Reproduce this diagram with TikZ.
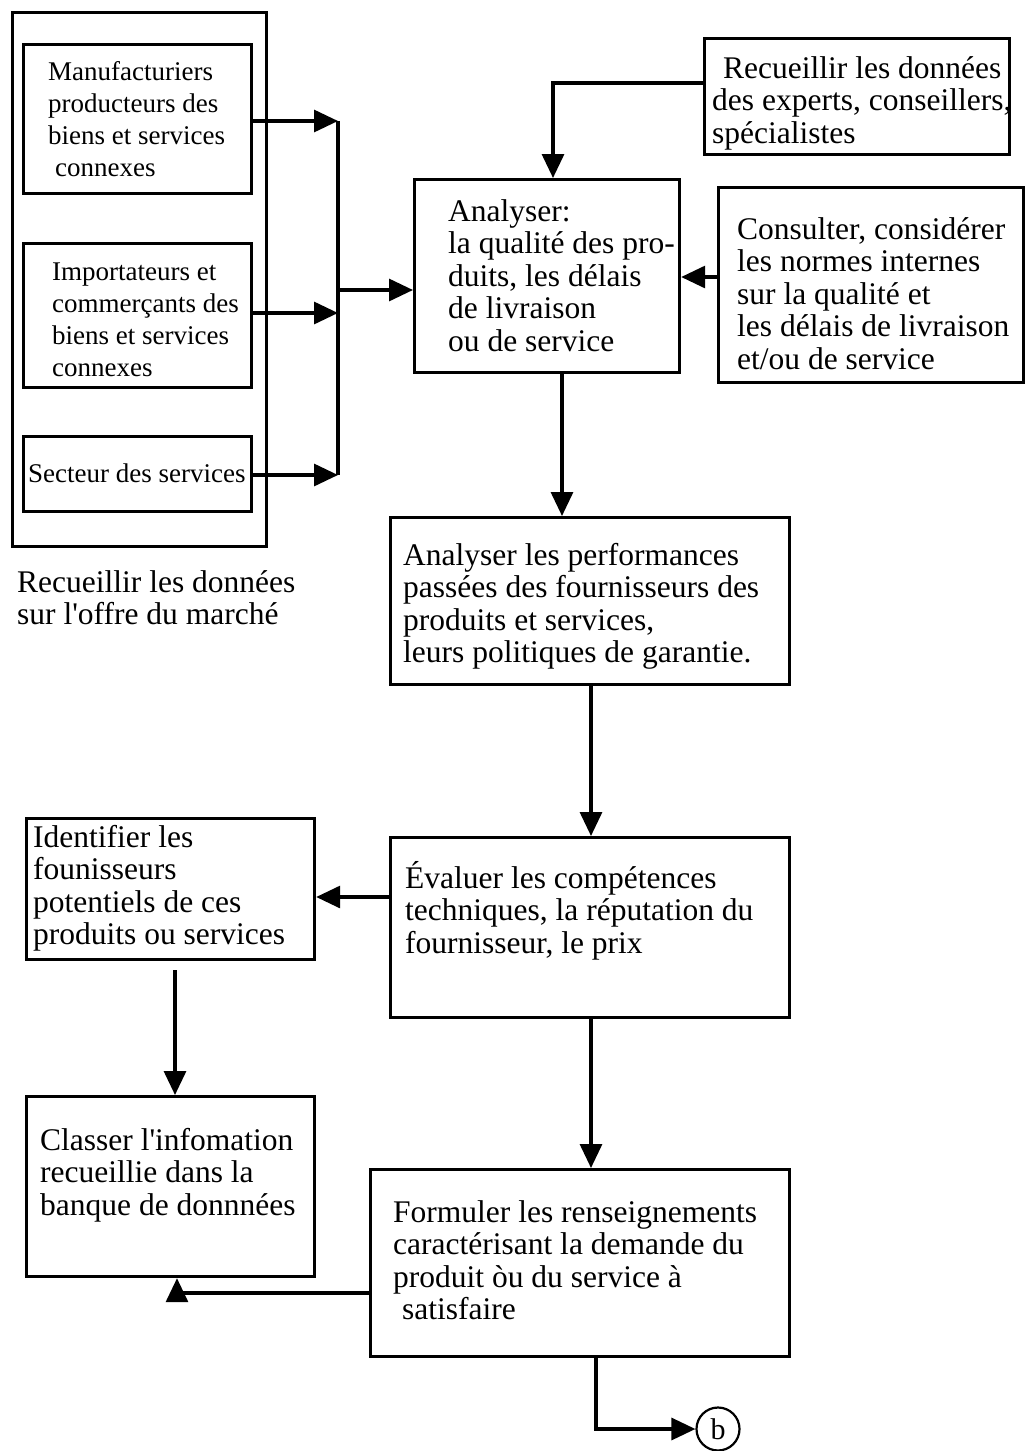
\documentclass[tikz,border=0pt]{standalone}
\usepackage{fontspec}
% plain family: keeps the straight apostrophe as typed
\newfontfamily\diagfont{Liberation Serif}
\usetikzlibrary{arrows.meta}

\newcommand\bigtxt{\diagfont\fontsize{31.5}{32.5}\selectfont}
\newcommand\smalltxt{\diagfont\fontsize{27}{32}\selectfont}
\newcommand\lines[1]{\begin{tabular}[t]{@{}l@{}}#1\end{tabular}}

\tikzset{
  box/.style={draw, line width=3.2pt, rectangle, inner sep=0pt, anchor=north west},
  txt/.style={inner sep=0pt, anchor=base west, font=\bigtxt},
  smalltext/.style={inner sep=0pt, anchor=base west, font=\smalltxt},
  arr/.style={line width=3.2pt, -{Triangle[length=24pt,width=22pt]}},
  link/.style={line width=3.2pt},
}

\begin{document}
\begin{tikzpicture}[x=1pt, y=-1pt]
\fill[white] (0,0) rectangle (1030,1451);
\useasboundingbox (0,0) rectangle (1030,1451);

% market supply block
\node[box, minimum width=254pt, minimum height=534pt] (market) at (11,11) {};
\node[box, minimum width=228pt, minimum height=149pt] (manuf) at (22,43) {};
\node[box, minimum width=228pt, minimum height=144pt] (import) at (22,242) {};
\node[box, minimum width=228pt, minimum height=75pt] (secteur) at (22,435) {};
\node[smalltext] (tmanuf) at (48,80) {\lines{Manufacturiers\\producteurs des\\biens et services\\\hspace{7pt}connexes}};
\node[smalltext] (timport) at (52,280) {\lines{Importateurs et\\commerçants des\\biens et services\\connexes}};
\node[smalltext] (tsecteur) at (28,482) {Secteur des services};
\node[txt] (tmarket) at (17,592) {\lines{Recueillir les données\\sur l'offre du marché}};

% central and right boxes
\node[box, minimum width=305pt, minimum height=116pt] (experts) at (703,37) {};
\node[txt] (texperts) at (712,78) {\lines{\hspace{11pt}Recueillir les données\\des experts, conseillers,\\spécialistes}};

\node[box, minimum width=265pt, minimum height=193pt] (analyser) at (413,178) {};
\node[txt] (tanalyser) at (448,221) {\lines{Analyser:\\la qualité des pro-\\duits, les délais\\de livraison\\ou de service}};

\node[box, minimum width=305pt, minimum height=195pt] (consulter) at (717,186) {};
\node[txt] (tconsulter) at (737,239) {\lines{Consulter, considérer\\les normes internes\\sur la qualité et\\les délais de livraison\\et/ou de service}};

\node[box, minimum width=399pt, minimum height=167pt] (perf) at (389,516) {};
\node[txt] (tperf) at (403,565) {\lines{Analyser les performances\\passées des fournisseurs des\\produits et services,\\leurs politiques de garantie.}};

\node[box, minimum width=399pt, minimum height=180pt] (eval) at (389,836) {};
\node[txt] (teval) at (405,888) {\lines{Évaluer les compétences\\techniques, la réputation du\\fournisseur, le prix}};

\node[box, minimum width=288pt, minimum height=141pt] (ident) at (25,817) {};
\node[txt] (tident) at (33,847) {\lines{Identifier les\\founisseurs\\potentiels de ces\\produits ou services}};

\node[box, minimum width=288pt, minimum height=180pt] (classer) at (25,1095) {};
\node[txt] (tclasser) at (40,1150) {\lines{Classer l'infomation\\recueillie dans la\\banque de donnnées}};

\node[box, minimum width=419pt, minimum height=187pt] (formuler) at (369,1168) {};
\node[txt] (tformuler) at (393,1222) {\lines{Formuler les renseignements\\caractérisant la demande du\\produit òu du service à\\\hspace{9pt}satisfaire}};

\node[circle, draw, line width=2.2pt, minimum size=43pt, inner sep=0pt, font=\diagfont\fontsize{30}{30}\selectfont] (b) at (718,1429) {b};

% junction points
\coordinate (bar1) at (338,121);
\coordinate (bar2) at (338,313);
\coordinate (bar3) at (338,475);
\coordinate (barmid) at (338,290);
\coordinate (jexp) at (553,83);
\coordinate (jcons) at (0,277);
\coordinate (jan) at (562,0);
\coordinate (jperf) at (591,0);
\coordinate (jeval) at (0,897);
\coordinate (jid) at (175,970);
\coordinate (jform) at (177,1293);
\coordinate (jout) at (596,1429);

% connectors from the supply boxes
\draw[arr] (manuf.east |- bar1) -- (bar1);
\draw[arr] (import.east |- bar2) -- (bar2);
\draw[arr] (secteur.east |- bar3) -- (bar3);
\draw[link] (bar1) -- (bar3);
\draw[arr] (barmid) -- (analyser.west |- barmid);

% inputs to the analysis
\draw[arr] (experts.west |- jexp) -| (analyser.north -| jexp);
\draw[arr] (consulter.west |- jcons) -- (analyser.east |- jcons);

% main chain
\draw[arr] (analyser.south -| jan) -- (perf.north -| jan);
\draw[arr] (perf.south -| jperf) -- (eval.north -| jperf);
\draw[arr] (eval.west |- jeval) -- (ident.east |- jeval);
\draw[arr] (jid) -- (classer.north -| jid);
\draw[arr] (eval.south -| jperf) -- (formuler.north -| jperf);
\draw[arr] (formuler.west |- jform) -| (classer.south -| jform);
\draw[arr] (formuler.south -| jout) -- (jout) -- (b.west);
\end{tikzpicture}
\end{document}
